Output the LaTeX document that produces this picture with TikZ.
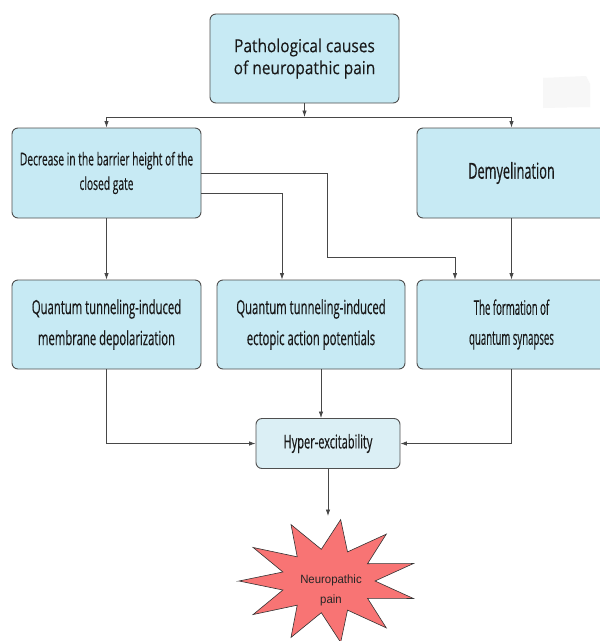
\documentclass[tikz,border=0pt]{standalone}
\usepackage{fontspec}
\setmainfont{Open Sans}
\newfontfamily\condA[FakeStretch=0.58,FakeBold=0.3]{Open Sans}
\newfontfamily\condC[FakeStretch=0.48,FakeBold=0.3]{Open Sans}
\newfontfamily\regA[FakeStretch=0.86,FakeBold=0.15]{Open Sans}
\newfontfamily\arialn[FakeStretch=0.95]{Liberation Sans}
\usetikzlibrary{arrows.meta}
\definecolor{boxfill}{HTML}{C7EAF4}
\definecolor{hypfill}{HTML}{DBEFF5}
\definecolor{boxline}{HTML}{4F4F4F}
\definecolor{conline}{HTML}{474747}
\definecolor{starfill}{HTML}{F87474}
\tikzset{
  box/.style={draw=boxline, fill=boxfill, line width=0.9pt, rounded corners=6pt,
    minimum width=189pt, minimum height=89pt, align=center, inner sep=2pt, text=black!90},
  hypbox/.style={box, fill=hypfill, minimum width=144pt, minimum height=50pt},
  arr/.style={draw=conline, line width=0.8pt, -{Latex[length=6.5pt,width=4.5pt]}},
}
\begin{document}
\begin{tikzpicture}[x=1pt,y=-1pt]
\clip (0,0) rectangle (600,641);
\fill[white] (0,0) rectangle (600,641);
\fill[black!3] (543,78) -- (586,76) -- (590,84) -- (590,107) -- (543,108) -- cycle;

\node[box, font={\regA\fontsize{18}{22}\selectfont}] (top) at (304.5,58.5) {\raisebox{-2pt}{Pathological causes}\\ \raisebox{-2pt}{of neuropathic pain}};
\node[box, minimum height=90pt, font={\condA\fontsize{17.7}{24.5}\selectfont}] (dec) at (106.5,173) {\raisebox{-2pt}{Decrease in the barrier height of the}\\ \raisebox{-2pt}{closed gate}};
\node[box, minimum height=90pt, font={\condA\fontsize{22}{26}\selectfont}] (dem) at (511.5,173) {\raisebox{-4pt}{Demyelination}};
\node[box, font={\condA\fontsize{19.5}{31}\selectfont}] (q1) at (106.5,324.5) {Quantum tunneling-induced\\ membrane depolarization};
\node[box, minimum width=188pt, font={\condA\fontsize{19.5}{31}\selectfont}] (q2) at (311,324.5) {Quantum tunneling-induced\\ ectopic action potentials};
\node[box, font={\condC\fontsize{20}{30}\selectfont}] (form) at (511.5,324.5) {The formation of\\ quantum synapses};
\node[hypbox, font={\condA\fontsize{19}{22}\selectfont}] (hyp) at (328,443.5) {Hyper-excitability};

\begin{scope}[shift={(328,581)}]
\draw[draw=black!80, fill=starfill, line width=0.6pt]
  (180:89 and 62)
  \foreach \i in {0,...,10}{ -- ({196.3636+\i*32.7273}:47 and 32) -- ({212.7273+\i*32.7273}:89 and 62)} -- cycle;
\end{scope}
\node[align=center, text=black!85, font={\arialn\fontsize{12}{20}\selectfont}] (pain) at (331,590) {Neuropathic\\ pain};

\coordinate (junc) at (304.5,117);
\coordinate (c1) at (327,257);
\coordinate (painTop) at (328,516);

\draw[arr] (top.south) -- (junc);
\draw[arr] (junc) -| (dec.north);
\draw[arr] (junc) -| (dem.north);
\draw[arr] (dec.south) -- (q1.north);
\draw[arr] ([yshift=-20pt]dec.east) -| ([xshift=-29pt]q2.north);
\draw[arr] (dec.east) -| (c1) -| ([xshift=-56.5pt]form.north);
\draw[arr] (dem.south) -- (form.north);
\draw[arr] (q1.south) |- (hyp.west);
\draw[arr] ([xshift=10pt]q2.south) -- ([xshift=10pt]q2.south |- hyp.north);
\draw[arr] (form.south) |- (hyp.east);
\draw[arr] (hyp.south) -- (painTop);
\end{tikzpicture}
\end{document}
